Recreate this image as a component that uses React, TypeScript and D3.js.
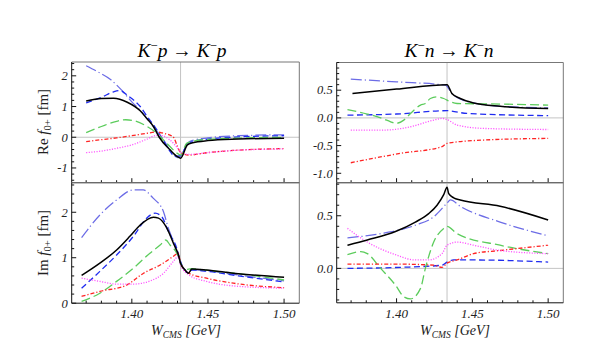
import React from "react";
import * as d3 from "d3";

type P = [number, number];

// ---- Re f, K-p -> K-p ----
const reP_black: P[] = [[1.37,1.18],[1.38,1.26],[1.388,1.27],[1.397,1.14],[1.4055,0.86],[1.41,0.6],[1.4142,0.35],[1.418,0.0],[1.4251,-0.41],[1.429,-0.6],[1.432,-0.68],[1.4365,-0.25],[1.44,-0.18],[1.45,-0.11],[1.47,-0.06],[1.50,-0.03]];
const reP_blue: P[] = [[1.37,1.12],[1.38,1.3],[1.388,1.48],[1.392,1.52],[1.398,1.33],[1.4055,1.0],[1.41,0.68],[1.415,0.35],[1.42,-0.05],[1.425,-0.45],[1.428,-0.62],[1.432,-0.6],[1.4365,-0.22],[1.44,-0.14],[1.45,-0.06],[1.47,0.01],[1.50,0.05]];
const reP_slate: P[] = [[1.37,2.33],[1.378,2.12],[1.386,1.88],[1.393,1.55],[1.40,1.15],[1.4055,0.88],[1.414,0.35],[1.421,-0.1],[1.427,-0.55],[1.430,-0.66],[1.432,-0.62],[1.4365,-0.2],[1.44,-0.1],[1.45,-0.02],[1.47,0.05],[1.50,0.08]];
const reP_green: P[] = [[1.37,0.15],[1.38,0.35],[1.39,0.52],[1.396,0.57],[1.402,0.53],[1.41,0.35],[1.4164,0.13],[1.423,-0.2],[1.4307,-0.55],[1.432,-0.58],[1.436,-0.2],[1.44,-0.13],[1.45,-0.07],[1.47,-0.03],[1.50,0.0]];
const reP_red: P[] = [[1.37,-0.14],[1.38,-0.08],[1.39,-0.02],[1.40,0.05],[1.41,0.13],[1.4164,0.17],[1.42,0.14],[1.427,0.02],[1.43,-0.3],[1.432,-0.5],[1.4375,-0.58],[1.45,-0.5],[1.4667,-0.43],[1.50,-0.37]];
const reP_magenta: P[] = [[1.37,-0.5],[1.38,-0.45],[1.39,-0.36],[1.40,-0.25],[1.41,-0.06],[1.416,0.06],[1.42,0.05],[1.425,-0.09],[1.43,-0.35],[1.432,-0.48],[1.4375,-0.56],[1.45,-0.5],[1.47,-0.42],[1.50,-0.38]];

// ---- Im f, K-p -> K-p ----
const imP_black: P[] = [[1.367,0.61],[1.379,0.88],[1.39,1.17],[1.3987,1.47],[1.4055,1.72],[1.4142,1.89],[1.4175,1.87],[1.423,1.65],[1.4273,1.32],[1.4306,1.06],[1.432,0.88],[1.435,0.73],[1.4372,0.66],[1.4394,0.75],[1.449,0.73],[1.4667,0.66],[1.50,0.57]];
const imP_blue: P[] = [[1.367,0.33],[1.379,0.7],[1.39,1.06],[1.401,1.47],[1.4097,1.87],[1.4153,1.98],[1.4197,1.9],[1.424,1.58],[1.4295,1.21],[1.432,0.92],[1.435,0.72],[1.4372,0.66],[1.4394,0.73],[1.45,0.7],[1.47,0.6],[1.50,0.47]];
const imP_slate: P[] = [[1.367,1.44],[1.379,1.94],[1.39,2.27],[1.401,2.49],[1.4075,2.49],[1.414,2.31],[1.4208,2.01],[1.424,1.65],[1.4273,1.36],[1.432,0.88],[1.435,0.73],[1.4372,0.67],[1.4394,0.74],[1.45,0.71],[1.47,0.62],[1.50,0.49]];
const imP_green: P[] = [[1.367,0.04],[1.379,0.22],[1.39,0.48],[1.401,0.77],[1.4119,1.1],[1.4186,1.28],[1.4223,1.39],[1.4251,1.28],[1.4295,1.1],[1.432,0.88],[1.435,0.74],[1.4394,0.76],[1.45,0.72],[1.47,0.65],[1.50,0.51]];
const imP_red: P[] = [[1.367,0.15],[1.379,0.26],[1.3967,0.4],[1.4077,0.66],[1.4186,0.84],[1.4273,1.03],[1.4305,1.1],[1.432,0.88],[1.4375,0.66],[1.449,0.55],[1.4667,0.44],[1.50,0.34]];
const imP_magenta: P[] = [[1.367,0.55],[1.379,0.48],[1.39,0.42],[1.401,0.42],[1.412,0.49],[1.4208,0.66],[1.4273,0.92],[1.4305,1.03],[1.432,0.84],[1.4375,0.62],[1.449,0.48],[1.4667,0.38],[1.50,0.33]];

// ---- Re f, K-n -> K-n ----
const reN_black: P[] = [[1.3709,0.44],[1.40,0.52],[1.4333,0.60],[1.4365,0.44],[1.442,0.35],[1.4508,0.27],[1.4683,0.21],[1.50,0.17]];
const reN_blue: P[] = [[1.3676,0.05],[1.40,0.07],[1.4333,0.13],[1.4464,0.08],[1.50,0.04]];
const reN_slate: P[] = [[1.3698,0.70],[1.40,0.65],[1.4322,0.59],[1.4365,0.44],[1.442,0.34],[1.4508,0.27],[1.4683,0.21],[1.50,0.18]];
const reN_green: P[] = [[1.3676,0.15],[1.3807,0.07],[1.3895,0.0],[1.3961,-0.07],[1.3993,-0.1],[1.4048,-0.04],[1.4092,0.08],[1.4158,0.23],[1.419,0.26],[1.4223,0.35],[1.4267,0.38],[1.4311,0.35],[1.4355,0.29],[1.4399,0.26],[1.4683,0.25],[1.50,0.23]];
const reN_red: P[] = [[1.3698,-0.81],[1.4026,-0.64],[1.43,-0.52],[1.4333,-0.46],[1.4573,-0.40],[1.50,-0.37]];
const reN_magenta: P[] = [[1.3698,-0.22],[1.3917,-0.22],[1.4092,-0.16],[1.4245,-0.04],[1.43,-0.01],[1.4333,-0.03],[1.4399,-0.13],[1.4573,-0.19],[1.50,-0.21]];

// ---- Im f, K-n -> K-n ----
const imN_black: P[] = [[1.3676,0.22],[1.3807,0.27],[1.3993,0.35],[1.4124,0.44],[1.4212,0.52],[1.4267,0.60],[1.4311,0.70],[1.4333,0.77],[1.4344,0.71],[1.4377,0.67],[1.442,0.65],[1.4683,0.59],[1.50,0.46]];
const imN_blue: P[] = [[1.3676,0.0],[1.4026,0.01],[1.43,0.03],[1.4333,0.06],[1.4377,0.08],[1.4508,0.08],[1.50,0.06]];
const imN_slate: P[] = [[1.3676,0.29],[1.3895,0.33],[1.4124,0.41],[1.4245,0.49],[1.4333,0.62],[1.4355,0.65],[1.442,0.59],[1.4683,0.44],[1.50,0.31]];
const imN_green: P[] = [[1.3676,0.13],[1.3764,0.16],[1.3807,0.14],[1.3895,0.0],[1.3993,-0.16],[1.4048,-0.27],[1.4092,-0.29],[1.4158,-0.19],[1.419,0.0],[1.4245,0.25],[1.4311,0.38],[1.4333,0.40],[1.4399,0.33],[1.4683,0.22],[1.50,0.14]];
const imN_red: P[] = [[1.3676,0.04],[1.4026,0.04],[1.4245,0.03],[1.43,0.01],[1.4333,0.05],[1.4399,0.08],[1.4508,0.14],[1.4683,0.17],[1.50,0.22]];
const imN_magenta: P[] = [[1.3676,0.38],[1.3807,0.25],[1.3993,0.13],[1.4124,0.08],[1.4212,0.08],[1.43,0.14],[1.4333,0.22],[1.4399,0.25],[1.4508,0.22],[1.4683,0.17],[1.50,0.14]];

const xTickLabels = ["1.40", "1.45", "1.50"];
const xMajor = [1.40, 1.45, 1.50];
const thresholdKp = 1.432;
const thresholdKn = 1.4333;

const STYLES = [
  { key: "slate", color: "#6c6ce6", dash: "11,3,1.2,3", w: 1.25 },
  { key: "blue", color: "#1f2bf0", dash: "6,3.5", w: 1.3 },
  { key: "green", color: "#5ccc5c", dash: "9,4", w: 1.3 },
  { key: "red", color: "#ff2424", dash: "4,2,1.2,2", w: 1.3 },
  { key: "magenta", color: "#ff50ff", dash: "1.1,1.5", w: 1.3 },
  { key: "black", color: "#000", dash: "", w: 1.5 },
];

const FONT = "'Liberation Serif', 'Times New Roman', serif";

interface PanelDef {
  id: string;
  x0: number; x1: number; y0: number; y1: number;
  yDomain: [number, number];
  yMajor: number[];
  yMinorStep: number;
  yLabels: string[];
  series: Record<string, P[]>;
  threshold: number;
  showXLabels: boolean;
  zeroLine: boolean;
}

const panels: PanelDef[] = [
  { id: "tl", x0: 71.7, x1: 299.3, y0: 62, y1: 182.7, yDomain: [-1.48, 2.45], yMajor: [-1, 0, 1, 2], yMinorStep: 0.2, yLabels: ["-1", "0", "1", "2"],
    series: { slate: reP_slate, blue: reP_blue, green: reP_green, red: reP_red, magenta: reP_magenta, black: reP_black }, threshold: thresholdKp, showXLabels: false, zeroLine: true },
  { id: "bl", x0: 71.7, x1: 299.3, y0: 182.7, y1: 303.2, yDomain: [0, 2.65], yMajor: [0, 1, 2], yMinorStep: 0.2, yLabels: ["0", "1", "2"],
    series: { slate: imP_slate, blue: imP_blue, green: imP_green, red: imP_red, magenta: imP_magenta, black: imP_black }, threshold: thresholdKp, showXLabels: true, zeroLine: false },
  { id: "tr", x0: 336.7, x1: 563.3, y0: 62.5, y1: 182.7, yDomain: [-1.17, 1.0], yMajor: [-1, -0.5, 0, 0.5], yMinorStep: 0.1, yLabels: ["-1.0", "-0.5", "0.0", "0.5"],
    series: { slate: reN_slate, blue: reN_blue, green: reN_green, red: reN_red, magenta: reN_magenta, black: reN_black }, threshold: thresholdKn, showXLabels: false, zeroLine: true },
  { id: "br", x0: 336.7, x1: 563.3, y0: 182.7, y1: 302.8, yDomain: [-0.327, 0.814], yMajor: [0, 0.5], yMinorStep: 0.1, yLabels: ["0.0", "0.5"],
    series: { slate: imN_slate, blue: imN_blue, green: imN_green, red: imN_red, magenta: imN_magenta, black: imN_black }, threshold: thresholdKn, showXLabels: true, zeroLine: true },
];

function Panel({ p }: { p: PanelDef }) {
  const x = d3.scaleLinear().domain([1.3605, 1.51]).range([p.x0, p.x1]);
  const y = d3.scaleLinear().domain(p.yDomain).range([p.y1, p.y0]);
  const line = d3.line<P>().x((d) => x(d[0])).y((d) => y(d[1])).curve(d3.curveMonotoneX);
  const minorX = d3.range(137, 151).map((v) => v / 100).filter((v) => !xMajor.some((m) => Math.abs(m - v) < 1e-6));
  const lo = Math.ceil(p.yDomain[0] / p.yMinorStep - 1e-6);
  const hi = Math.floor(p.yDomain[1] / p.yMinorStep + 1e-6);
  const minorY = d3.range(lo, hi + 1).map((k) => k * p.yMinorStep).filter((v) => !p.yMajor.some((m) => Math.abs(m - v) < 1e-6));
  return (
    <g>
      <defs>
        <clipPath id={"clip-" + p.id}>
          <rect x={p.x0} y={p.y0} width={p.x1 - p.x0} height={p.y1 - p.y0} />
        </clipPath>
      </defs>
      {p.zeroLine && <line x1={p.x0} x2={p.x1} y1={y(0)} y2={y(0)} stroke="#c4c4c4" strokeWidth={1} />}
      <line x1={x(p.threshold)} x2={x(p.threshold)} y1={p.y0} y2={p.y1} stroke="#c4c4c4" strokeWidth={1} />
      <g clipPath={`url(#clip-${p.id})`}>
        {STYLES.map((s) => (
          <path key={s.key} d={line(p.series[s.key]) || ""} fill="none" stroke={s.color} strokeWidth={s.w}
            strokeDasharray={s.dash || undefined} strokeLinejoin="round" />
        ))}
      </g>
      {/* frame */}
      <line x1={p.x0} x2={p.x1} y1={p.y0} y2={p.y0} stroke="#777" strokeWidth={1} />
      <line x1={p.x1} x2={p.x1} y1={p.y0} y2={p.y1} stroke="#777" strokeWidth={1} />
      <line x1={p.x0} x2={p.x0} y1={p.y0} y2={p.y1} stroke="#111" strokeWidth={1} />
      <line x1={p.x0} x2={p.x1} y1={p.y1} y2={p.y1} stroke="#111" strokeWidth={1} />
      {/* x ticks */}
      {xMajor.map((v) => (
        <line key={"xM" + v} x1={x(v)} x2={x(v)} y1={p.y1} y2={p.y1 - 4.5} stroke="#111" strokeWidth={1} />
      ))}
      {minorX.map((v) => (
        <line key={"xm" + v} x1={x(v)} x2={x(v)} y1={p.y1} y2={p.y1 - 2.5} stroke="#111" strokeWidth={1} />
      ))}
      {p.showXLabels && xMajor.map((v, i) => (
        <text key={"xl" + v} x={x(v)} y={p.y1 + 15} textAnchor="middle" fontFamily={FONT} fontStyle="italic" fontSize={13} fill="#222">{xTickLabels[i]}</text>
      ))}
      {/* y ticks */}
      {p.yMajor.map((v) => (
        <line key={"yM" + v} x1={p.x0} x2={p.x0 + 4.5} y1={y(v)} y2={y(v)} stroke="#111" strokeWidth={1} />
      ))}
      {minorY.map((v) => (
        <line key={"ym" + v} x1={p.x0} x2={p.x0 + 2.5} y1={y(v)} y2={y(v)} stroke="#111" strokeWidth={1} />
      ))}
      {p.yMajor.map((v, i) => (
        <text key={"yl" + v} x={p.x0 - 4} y={y(v) + 4.3} textAnchor="end" fontFamily={FONT} fontStyle="italic" fontSize={12.5} fill="#222">{p.yLabels[i]}</text>
      ))}
    </g>
  );
}

function Title({ cx, letter }: { cx: number; letter: string }) {
  return (
    <text x={cx} y={57} textAnchor="middle" fontFamily={FONT} fontSize={19.5} fill="#000">
      <tspan fontStyle="italic">K</tspan>
      <tspan fontSize={12.5} dy={-7.5}>−</tspan>
      <tspan fontStyle="italic" dy={7.5}>{letter}</tspan>
      <tspan> → </tspan>
      <tspan fontStyle="italic">K</tspan>
      <tspan fontSize={12.5} dy={-7.5}>−</tspan>
      <tspan fontStyle="italic" dy={7.5}>{letter}</tspan>
    </text>
  );
}

function YLabel({ cy, prefix }: { cy: number; prefix: string }) {
  return (
    <text transform={`translate(47.5,${cy}) rotate(-90)`} textAnchor="middle" fontFamily={FONT} fontSize={15} fill="#222">
      <tspan>{prefix} </tspan>
      <tspan fontStyle="italic">f</tspan>
      <tspan fontSize={10.5} dy={3}>0+</tspan>
      <tspan dy={-3}> [fm]</tspan>
    </text>
  );
}

function XLabel({ cx }: { cx: number }) {
  return (
    <text x={cx} y={335} textAnchor="middle" fontFamily={FONT} fontStyle="italic" fontSize={14} fill="#222">
      <tspan>W</tspan>
      <tspan fontSize={9.5} dy={3}>CMS</tspan>
      <tspan dy={-3}> [GeV]</tspan>
    </text>
  );
}

export default function App() {
  return (
    <svg width={598} height={345} style={{ position: "absolute", left: 0, top: 0, background: "#fff" }}>
      <rect x={0} y={0} width={598} height={345} fill="#fff" />
      {panels.map((p) => <Panel key={p.id} p={p} />)}
      <Title cx={182} letter="p" />
      <Title cx={449} letter="n" />
      <YLabel cy={122} prefix="Re" />
      <YLabel cy={243} prefix="Im" />
      <XLabel cx={186} />
      <XLabel cx={455} />
    </svg>
  );
}
